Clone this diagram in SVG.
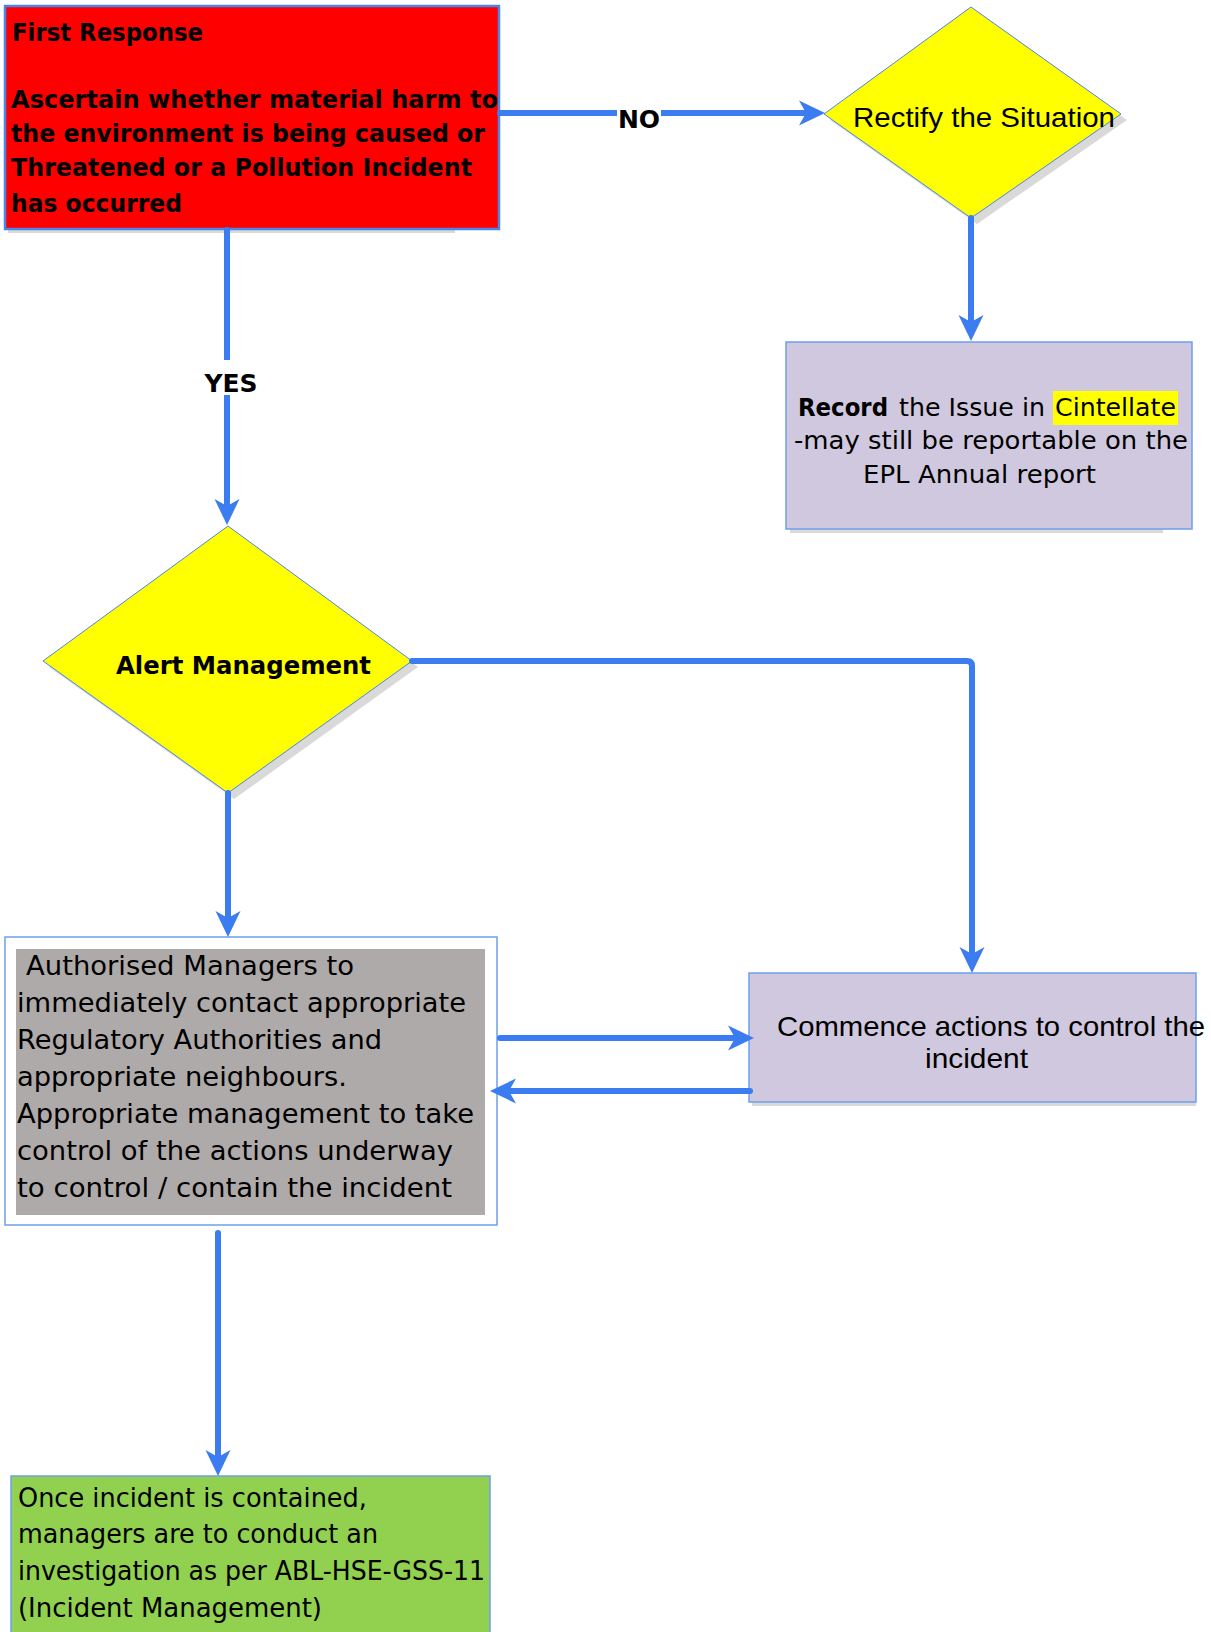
<svg xmlns="http://www.w3.org/2000/svg" width="1211" height="1632" viewBox="0 0 1211 1632">
  <defs>
    <marker id="arrow" viewBox="-18 -14 30 28" markerWidth="30" markerHeight="28" refX="0" refY="0" orient="auto" markerUnits="userSpaceOnUse">
      <path d="M10,0 L-16,-12.5 L-9,0 L-16,12.5 Z" fill="#3b7cf0"/>
    </marker>
    <style>
      .conn { fill: none; stroke: #3b7cf0; stroke-width: 6; stroke-linecap: round; stroke-linejoin: round; }
      .arr { marker-end: url(#arrow); }
      .shadow { fill: #d9d9d9; }
      .bold { font-family: "DejaVu Sans", Verdana, sans-serif; font-weight: bold; fill: #000; }
      .reg { font-family: "DejaVu Sans", Verdana, sans-serif; fill: #000; }
      .cal { font-family: "Liberation Sans", Arial, sans-serif; fill: #000; }
      .diamond { fill: #ffff00; stroke: #4a86e8; stroke-width: 1; }
      .lav { fill: #cfc8de; stroke: #6d9eeb; stroke-width: 1.5; }
    </style>
  </defs>
  <rect width="1211" height="1632" fill="#ffffff"/>

  <!-- First Response -->
  <g id="first-response">
    <rect x="8" y="229" width="447" height="4" class="shadow"/>
    <rect x="5" y="6" width="494" height="223" fill="#ff0000" stroke="#4a86e8" stroke-width="2.5"/>
    <text class="bold" font-size="25" x="12" y="41" textLength="191" lengthAdjust="spacingAndGlyphs">First Response</text>
    <text class="bold" font-size="25" x="11" y="108" textLength="487" lengthAdjust="spacingAndGlyphs">Ascertain whether material harm to</text>
    <text class="bold" font-size="25" x="11" y="142" textLength="474" lengthAdjust="spacingAndGlyphs">the environment is being caused or</text>
    <text class="bold" font-size="25" x="11" y="176" textLength="461" lengthAdjust="spacingAndGlyphs">Threatened or a Pollution Incident</text>
    <text class="bold" font-size="25" x="11" y="212" textLength="171" lengthAdjust="spacingAndGlyphs">has occurred</text>
  </g>

  <!-- Rectify -->
  <g id="rectify">
    <polygon points="977,13 1127,120 977,224 830,120" class="shadow"/>
    <polygon points="971,7 1121,114 971,218 824,114" class="diamond"/>
    <text class="cal" font-size="28" x="853" y="127" textLength="262" lengthAdjust="spacingAndGlyphs">Rectify the Situation</text>
  </g>

  <!-- Record -->
  <g id="record">
    <rect x="790" y="529" width="373" height="4" class="shadow"/>
    <rect x="786" y="342" width="406" height="187" class="lav"/>
    <rect x="1053" y="391" width="125" height="34" fill="#ffff00"/>
    <text class="bold" font-size="24" x="798" y="416" textLength="90" lengthAdjust="spacingAndGlyphs">Record</text>
    <text class="reg" font-size="24" x="899" y="416" textLength="146" lengthAdjust="spacingAndGlyphs">the Issue in</text>
    <text class="reg" font-size="24" x="1055" y="416" textLength="121" lengthAdjust="spacingAndGlyphs">Cintellate</text>
    <text class="reg" font-size="24" x="794" y="449" textLength="394" lengthAdjust="spacingAndGlyphs">-may still be reportable on the</text>
    <text class="reg" font-size="24" x="863" y="483" textLength="233" lengthAdjust="spacingAndGlyphs">EPL Annual report</text>
  </g>

  <!-- Alert Management -->
  <g id="alert">
    <polygon points="234,532 418,667 234,799 49,667" class="shadow"/>
    <polygon points="228,526 412,661 228,793 43,661" class="diamond"/>
    <text class="bold" font-size="25" x="116" y="674" textLength="255" lengthAdjust="spacingAndGlyphs">Alert Management</text>
  </g>

  <!-- Authorised Managers -->
  <g id="authorised">
    <rect x="5" y="937" width="492" height="288" fill="#ffffff" stroke="#6d9eeb" stroke-width="1.5"/>
    <rect x="16" y="949" width="469" height="266" fill="#aeaaaa"/>
    <text class="reg" font-size="26" x="26" y="975" textLength="328" lengthAdjust="spacingAndGlyphs">Authorised Managers to</text>
    <text class="reg" font-size="26" x="17" y="1012" textLength="449" lengthAdjust="spacingAndGlyphs">immediately contact appropriate</text>
    <text class="reg" font-size="26" x="17" y="1049" textLength="365" lengthAdjust="spacingAndGlyphs">Regulatory Authorities and</text>
    <text class="reg" font-size="26" x="17" y="1086" textLength="330" lengthAdjust="spacingAndGlyphs">appropriate neighbours.</text>
    <text class="reg" font-size="26" x="17" y="1123" textLength="457" lengthAdjust="spacingAndGlyphs">Appropriate management to take</text>
    <text class="reg" font-size="26" x="17" y="1160" textLength="436" lengthAdjust="spacingAndGlyphs">control of the actions underway</text>
    <text class="reg" font-size="26" x="17" y="1197" textLength="435" lengthAdjust="spacingAndGlyphs">to control / contain the incident</text>
  </g>

  <!-- Commence -->
  <g id="commence">
    <rect x="752" y="1102" width="444" height="4" class="shadow"/>
    <rect x="749" y="973" width="447" height="129" class="lav"/>
    <text class="cal" font-size="28" x="777" y="1036" textLength="428" lengthAdjust="spacingAndGlyphs">Commence actions to control the</text>
    <text class="cal" font-size="28" x="925" y="1068" textLength="103" lengthAdjust="spacingAndGlyphs">incident</text>
  </g>

  <!-- Investigation -->
  <g id="investigation">
    <rect x="11" y="1476" width="479" height="200" fill="#92d050" stroke="#6d9eeb" stroke-width="1.5"/>
    <text class="reg" font-size="26" x="18" y="1507" textLength="349" lengthAdjust="spacingAndGlyphs">Once incident is contained,</text>
    <text class="reg" font-size="26" x="18" y="1543" textLength="360" lengthAdjust="spacingAndGlyphs">managers are to conduct an</text>
    <text class="reg" font-size="26" x="18" y="1580" textLength="467" lengthAdjust="spacingAndGlyphs">investigation as per ABL-HSE-GSS-11</text>
    <text class="reg" font-size="26" x="18" y="1617" textLength="304" lengthAdjust="spacingAndGlyphs">(Incident Management)</text>
  </g>

  <!-- Connectors -->
  <g id="connectors">
    <path class="conn arr" d="M500,113 H815"/>
    <path class="conn arr" d="M971,218 V331"/>
    <path class="conn arr" d="M227,230 V515"/>
    <path class="conn arr" d="M412,661 H967 Q972,661 972,666 V963"/>
    <path class="conn arr" d="M228,793 V927"/>
    <path class="conn arr" d="M500,1038 H744"/>
    <path class="conn arr" d="M750,1091 H500"/>
    <path class="conn arr" d="M218,1233 V1466"/>
  </g>

  <!-- Connector labels -->
  <g id="labels">
    <rect x="617" y="106" width="44" height="24" fill="#ffffff"/>
    <text class="bold" font-size="25" x="639" y="128" text-anchor="middle">NO</text>
    <rect x="204" y="360" width="54" height="35" fill="#ffffff"/>
    <text class="bold" font-size="25" x="231" y="392" text-anchor="middle">YES</text>
  </g>
</svg>
